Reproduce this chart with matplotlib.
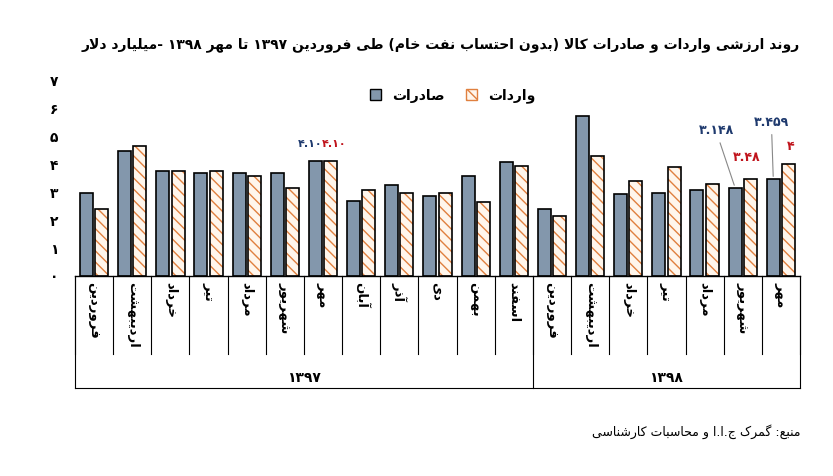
import matplotlib
matplotlib.use("Agg")
import matplotlib.pyplot as plt
import numpy as np

plt.rcParams['font.family'] = ['DejaVu Sans']

# ---------- data ----------
months = ["فروردین", "اردیبهشت", "خرداد", "تیر", "مرداد", "شهریور", "مهر",
          "آبان", "آذر", "دی", "بهمن", "اسفند",
          "فروردین", "اردیبهشت", "خرداد", "تیر", "مرداد", "شهریور", "مهر"]
years = ["۱۳۹۷", "۱۳۹۸"]
year_sizes = [12, 7]
exports = [2.98, 4.45, 3.76, 3.67, 3.67, 3.67, 4.10, 2.67, 3.26, 2.87, 3.57, 4.06,
           2.39, 5.70, 2.94, 2.98, 3.07, 3.148, 3.459]
imports = [2.38, 4.64, 3.76, 3.76, 3.56, 3.16, 4.10, 3.06, 2.96, 2.96, 2.66, 3.93,
           2.16, 4.27, 3.38, 3.88, 3.27, 3.48, 4.0]
yticks = ["۰", "۱", "۲", "۳", "۴", "۵", "۶", "۷"]
title = "روند ارزشی واردات و صادرات کالا (بدون احتساب نفت خام) طی فروردین ۱۳۹۷ تا مهر ۱۳۹۸ -میلیارد دلار"
legend_labels = ["صادرات", "واردات"]
source = "منبع: گمرک ج.ا.ا و محاسبات کارشناسی"

# ---------- minimal Arabic/Persian shaping ----------
F = {  # iso, fin, ini, med
 'ء': (0xFE80,), 'آ': (0xFE81, 0xFE82), 'أ': (0xFE83, 0xFE84), 'ا': (0xFE8D, 0xFE8E),
 'ب': (0xFE8F, 0xFE90, 0xFE91, 0xFE92), 'ة': (0xFE93, 0xFE94),
 'ت': (0xFE95, 0xFE96, 0xFE97, 0xFE98), 'ث': (0xFE99, 0xFE9A, 0xFE9B, 0xFE9C),
 'ج': (0xFE9D, 0xFE9E, 0xFE9F, 0xFEA0), 'ح': (0xFEA1, 0xFEA2, 0xFEA3, 0xFEA4),
 'خ': (0xFEA5, 0xFEA6, 0xFEA7, 0xFEA8), 'د': (0xFEA9, 0xFEAA), 'ذ': (0xFEAB, 0xFEAC),
 'ر': (0xFEAD, 0xFEAE), 'ز': (0xFEAF, 0xFEB0), 'ژ': (0xFB8A, 0xFB8B),
 'س': (0xFEB1, 0xFEB2, 0xFEB3, 0xFEB4), 'ش': (0xFEB5, 0xFEB6, 0xFEB7, 0xFEB8),
 'ص': (0xFEB9, 0xFEBA, 0xFEBB, 0xFEBC), 'ض': (0xFEBD, 0xFEBE, 0xFEBF, 0xFEC0),
 'ط': (0xFEC1, 0xFEC2, 0xFEC3, 0xFEC4), 'ظ': (0xFEC5, 0xFEC6, 0xFEC7, 0xFEC8),
 'ع': (0xFEC9, 0xFECA, 0xFECB, 0xFECC), 'غ': (0xFECD, 0xFECE, 0xFECF, 0xFED0),
 'ف': (0xFED1, 0xFED2, 0xFED3, 0xFED4), 'ق': (0xFED5, 0xFED6, 0xFED7, 0xFED8),
 'ل': (0xFEDD, 0xFEDE, 0xFEDF, 0xFEE0), 'م': (0xFEE1, 0xFEE2, 0xFEE3, 0xFEE4),
 'ن': (0xFEE5, 0xFEE6, 0xFEE7, 0xFEE8), 'ه': (0xFEE9, 0xFEEA, 0xFEEB, 0xFEEC),
 'و': (0xFEED, 0xFEEE), 'پ': (0xFB56, 0xFB57, 0xFB58, 0xFB59),
 'چ': (0xFB7A, 0xFB7B, 0xFB7C, 0xFB7D), 'ک': (0xFB8E, 0xFB8F, 0xFB90, 0xFB91),
 'گ': (0xFB92, 0xFB93, 0xFB94, 0xFB95), 'ی': (0xFBFC, 0xFBFD, 0xFBFE, 0xFBFF),
}
MIRROR = {'(': ')', ')': '('}


def shape_word(s):
    out = []
    n = len(s)
    i = 0
    while i < n:
        c = s[i]
        if c not in F:
            out.append(MIRROR.get(c, c)); i += 1; continue
        prev = s[i - 1] if i > 0 else None
        join_prev = prev in F and len(F[prev]) == 4
        if c == 'ل' and i + 1 < n and s[i + 1] == 'ا':
            out.append(chr(0xFEFC if join_prev else 0xFEFB)); i += 2; continue
        nxt = s[i + 1] if i + 1 < n else None
        join_next = len(F[c]) == 4 and nxt in F
        f = F[c]
        if join_prev and join_next:
            ch = f[3]
        elif join_prev:
            ch = f[1] if len(f) > 1 else f[0]
        elif join_next:
            ch = f[2]
        else:
            ch = f[0]
        out.append(chr(ch)); i += 1
    return out


def rtl(s):
    chars = shape_word(s)
    runs, cur, curdig = [], [], None
    for ch in chars:
        d = ch.isdigit()
        if curdig is None or d == curdig:
            cur.append(ch)
        else:
            runs.append((curdig, cur)); cur = [ch]
        curdig = d
    if cur:
        runs.append((curdig, cur))
    res = []
    for d, r in reversed(runs):
        res.extend(r if d else reversed(r))
    return ''.join(res)


# ---------- plot ----------
fig = plt.figure(figsize=(8.33, 4.76), dpi=100)
ax = fig.add_axes([75 / 833, 1 - 276 / 476, 725 / 833, 196 / 476])
x = np.arange(len(months))
w = 0.34
exp_col = '#8397ac'
orange = '#e0803f'
ax.bar(x - 0.2, exports, w, color=exp_col, edgecolor='black', linewidth=1.2, zorder=2)
ax.bar(x + 0.2, imports, w, color='#fff6ec', edgecolor=orange, hatch='\\\\\\', linewidth=0, zorder=2)
ax.bar(x + 0.2, imports, w, fill=False, edgecolor='black', linewidth=1.2, zorder=3)

ax.set_xlim(-0.5, len(months) - 0.5)
ax.set_ylim(0, 7)
ax.set_yticks(range(8))
ax.set_yticklabels(yticks, fontsize=10, fontweight='bold')
ax.tick_params(axis='y', length=0, pad=12)
ax.set_xticks([])
for s in ['top', 'right', 'left']:
    ax.spines[s].set_visible(False)
ax.spines['bottom'].set_linewidth(1)

tr = ax.get_xaxis_transform()
for b in np.arange(-0.5, len(months), 1):
    ax.plot([b, b], [0, -0.40], color='black', lw=0.8, transform=tr, clip_on=False)
edges = [-0.5, -0.5 + year_sizes[0], len(months) - 0.5]
for b in edges:
    ax.plot([b, b], [0, -0.571], color='black', lw=0.8, transform=tr, clip_on=False)
ax.plot([-0.5, len(months) - 0.5], [-0.571, -0.571], color='black', lw=0.8, transform=tr, clip_on=False)
for i, m in enumerate(months):
    ax.text(i, -0.03, rtl(m), rotation=270, ha='center', va='top', fontsize=9.5,
            fontweight='bold', transform=tr)
start = -0.5
for y, n in zip(years, year_sizes):
    ax.text(start + n / 2, -0.52, y, ha='center', va='center', fontsize=10,
            fontweight='bold', transform=tr)
    start += n

navy = '#1f3a6e'
red = '#c0141c'
ax.text(6 - 0.02, 4.55, '۴.۱۰', ha='right', va='bottom', color=navy, fontsize=8, fontweight='bold')
ax.text(6 - 0.02, 4.55, '۴.۱۰', ha='left', va='bottom', color=red, fontsize=8, fontweight='bold')
ax.annotate('۳.۱۴۸', xy=(17 - 0.2, exports[17]), xytext=(16.3, 4.95),
            color=navy, fontsize=9, fontweight='bold', ha='center', va='bottom',
            arrowprops=dict(arrowstyle='-', color='#888888', lw=0.8))
ax.text(17.1, 4.0, '۳.۴۸', color=red, fontsize=9, fontweight='bold', ha='center', va='bottom')
ax.annotate('۳.۴۵۹', xy=(18 - 0.2, exports[18]), xytext=(17.75, 5.25),
            color=navy, fontsize=9, fontweight='bold', ha='center', va='bottom',
            arrowprops=dict(arrowstyle='-', color='#888888', lw=0.8))
ax.text(18.25, 4.4, '۴', color=red, fontsize=9, fontweight='bold', ha='center', va='bottom')

from matplotlib.patches import Patch
h1 = Patch(facecolor=exp_col, edgecolor='black')
h2 = Patch(facecolor='#fff6ec', edgecolor=orange, hatch='\\\\\\')
ax.legend([h1, h2], [rtl(l) for l in legend_labels], ncol=2, loc='upper left',
          bbox_to_anchor=(0.39, 1.02), frameon=False, handlelength=0.8,
          handleheight=0.8, columnspacing=1.5, prop={'weight': 'bold', 'size': 10})

fig.text(800 / 833, 1 - 45 / 476, rtl(title), ha='right', va='center', fontsize=10,
         fontweight='bold')
fig.text(800 / 833, 1 - 432 / 476, rtl(source), ha='right', va='center', fontsize=9)

fig.savefig('out.png', dpi=100)
